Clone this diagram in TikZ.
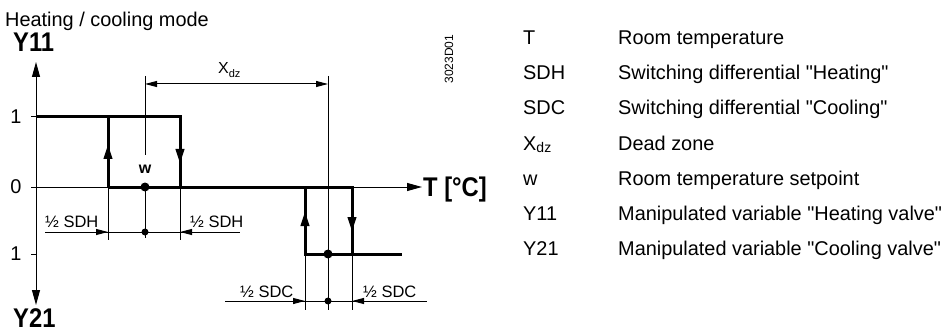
\documentclass[tikz,border=0pt]{standalone}
\usepackage{fontspec}
\usepackage{graphicx}
\setmainfont{Liberation Sans}[Ligatures=TeXOff]
\usetikzlibrary{arrows.meta}
\newcommand{\cnd}[1]{\scalebox{0.88}[1]{#1}}
\begin{document}
\begin{tikzpicture}[x=1pt,y=-1pt,
  thinl/.style={line width=1pt},
  thickl/.style={line width=3pt,line join=miter},
  axtip/.style={-{Triangle[length=15pt,width=8pt]}},
  dimtip/.style={-{Triangle[length=12pt,width=6pt]}},
  curvetip/.style={-{Triangle[length=14pt,width=9pt]}},
  lbl/.style={inner sep=0pt,anchor=base west,font=\fontsize{19.9}{22}\selectfont},
  small/.style={inner sep=0pt,anchor=base west,font=\fontsize{16.5}{19}\selectfont},
  big/.style={inner sep=0pt,anchor=base west,font=\fontsize{27}{30}\selectfont\bfseries},
  dot/.style={circle,fill=black,inner sep=0pt,minimum size=9pt},
  sdot/.style={circle,fill=black,inner sep=0pt,minimum size=7pt}
]
\useasboundingbox (0,0) rectangle (949,331);

% titles and axis labels
\node[lbl] (title) at (5,27) {Heating / cooling mode};
\node[big] (y11) at (13,52) {\cnd{Y11}};
\node[big] (y21) at (13,327) {\cnd{Y21}};
\node[big] (tc) at (423,196) {\cnd{T [°C]}};
\node[inner sep=0pt,rotate=90,font=\fontsize{12}{13}\selectfont] (code) at (449,59) {3023D01};

% tick labels
\node[inner sep=0pt,font=\fontsize{19.9}{22}\selectfont] (l1) at (16,117) {1};
\node[inner sep=0pt,font=\fontsize{19.9}{22}\selectfont] (l0) at (16,187) {0};
\node[inner sep=0pt,font=\fontsize{19.9}{22}\selectfont] (l1b) at (16,254) {1};

% axes
\coordinate (ytop) at (36,62);
\coordinate (ybot) at (36,305);
\coordinate (xstart) at (31,187);
\coordinate (xend) at (422,187);
\draw[thinl,{Triangle[length=15pt,width=8pt]}-{Triangle[length=15pt,width=8pt]}] (ytop) -- (ybot);
\draw[thinl,axtip] (xstart) -- (xend);
\draw[thinl] (31,117) -- (36,117);
\draw[thinl] (31,254) -- (36,254);

% thin construction lines
\draw[thinl] (108,187) -- (108,240);
\draw[thinl] (180,187) -- (180,240);
\draw[thinl] (145,76) -- (145,155);
\draw[thinl] (145,187) -- (145,238);
\draw[thinl] (305,254) -- (305,310);
\draw[thinl] (352,254) -- (352,310);
\draw[thinl] (328,76) -- (328,310);

% switching curves
\draw[thickl] (36,117) -| (180,187);
\draw[thickl] (108,187) -- (108,117);
\draw[thickl] (108,187) -- (352,187) -- (352,254);
\draw[thickl] (305,187) -- (305,254) -- (402,254);
\draw[thinl,curvetip] (108,162) -- (108,145);
\draw[thinl,curvetip] (180,143) -- (180,163);
\draw[thinl,curvetip] (305,229) -- (305,212);
\draw[thinl,curvetip] (352,212) -- (352,231);

% setpoint
\node[dot] (w) at (145,187) {};
\node[inner sep=0pt,anchor=base,font=\fontsize{16}{18}\selectfont\bfseries] (wl) at (145,174) {w};
\node[dot] (c1) at (328,254) {};

% dead zone
\draw[thinl,{Triangle[length=12pt,width=6pt]}-{Triangle[length=12pt,width=6pt]}] (145,84) -- (328,84);
\node[inner sep=0pt,anchor=base west,font=\fontsize{16}{18}\selectfont] (xdz) at (218,74) {X\raisebox{-4pt}{\fontsize{11}{12}\selectfont dz}};

% SDH dimension
\draw[thinl] (45,232) -- (240,232);
\draw[thinl,dimtip] (92,232) -- (108,232);
\draw[thinl,dimtip] (196,232) -- (180,232);
\node[sdot] (d1) at (145,232) {};
\node[small] (sdh1) at (45,227) {½ SDH};
\node[small] (sdh2) at (190,227) {½ SDH};

% SDC dimension
\draw[thinl] (225,301) -- (427,301);
\draw[thinl,dimtip] (289,301) -- (305,301);
\draw[thinl,dimtip] (368,301) -- (352,301);
\node[sdot] (d2) at (328,301) {};
\node[small] (sdc1) at (240,297) {½ SDC};
\node[small] (sdc2) at (363,297) {½ SDC};

% legend
\node[lbl] (k1) at (523,45) {T};
\node[lbl] (v1) at (618,45) {Room temperature};
\node[lbl] (k2) at (523,80) {SDH};
\node[lbl] (v2) at (618,80) {Switching differential "Heating"};
\node[lbl] (k3) at (523,115) {SDC};
\node[lbl] (v3) at (618,115) {Switching differential "Cooling"};
\node[lbl] (k4) at (523,150) {X\raisebox{-2pt}{\fontsize{14}{15}\selectfont dz}};
\node[lbl] (v4) at (618,150) {Dead zone};
\node[lbl] (k5) at (523,185) {w};
\node[lbl] (v5) at (618,185) {Room temperature setpoint};
\node[lbl] (k6) at (523,220) {Y11};
\node[lbl] (v6) at (618,220) {Manipulated variable "Heating valve"};
\node[lbl] (k7) at (523,255) {Y21};
\node[lbl] (v7) at (618,255) {Manipulated variable "Cooling valve"};
\end{tikzpicture}
\end{document}
